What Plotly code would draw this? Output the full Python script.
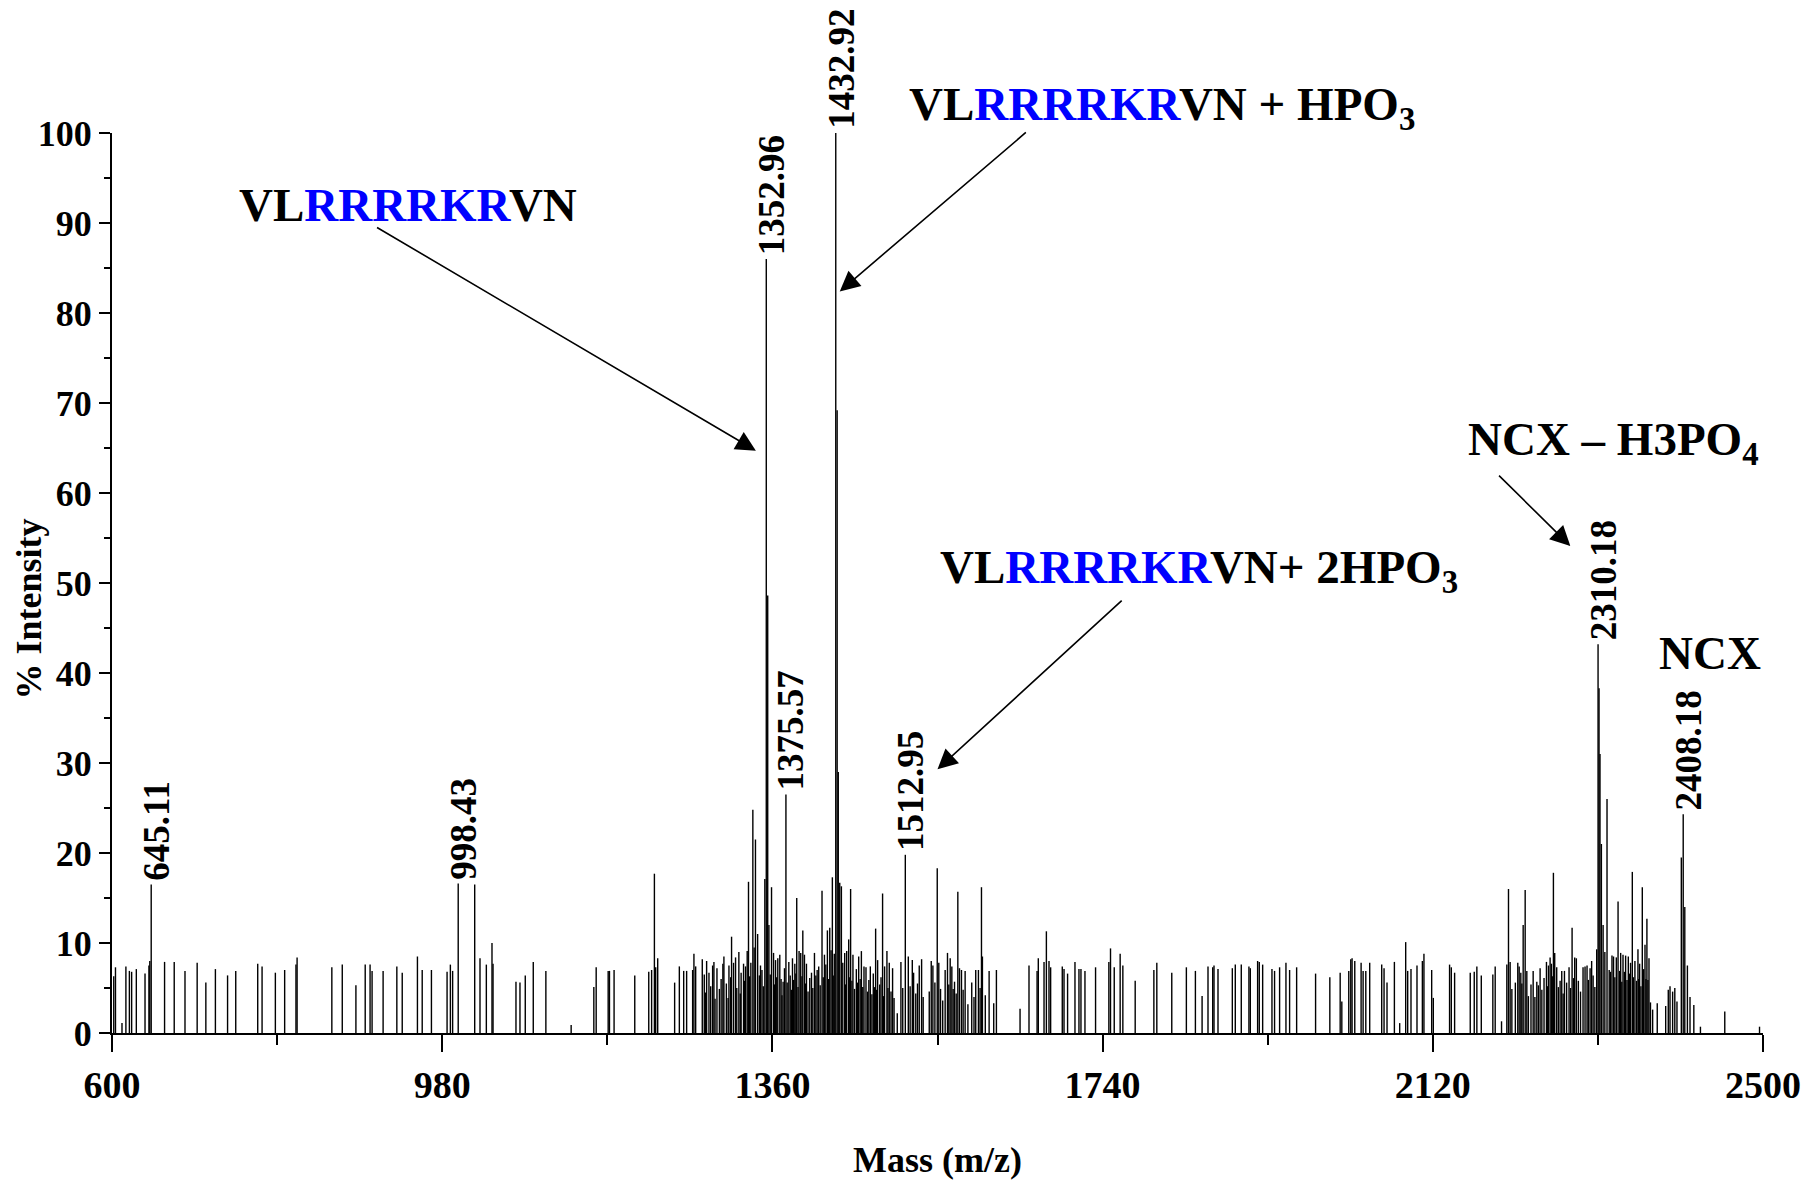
import plotly.graph_objects as go

# ---------------- data ----------------
peak_mz = [
    602, 604, 611.5, 616, 620, 622.6, 628, 638, 642.5, 643.5, 645.11, 660.5, 671.6, 684, 698, 708, 719, 733, 742.4,
    767.7, 772.7, 788, 798.7, 811.7, 813, 853, 865, 880.7, 891.4, 897, 899.3, 912, 927.8, 934, 951.5, 957, 967.6,
    985.6, 989.4, 992, 998.43,
    1017.4, 1023.5, 1030.8, 1037.3, 1038.5, 1064.9, 1069.5, 1075.6, 1084.8, 1099.3, 1128.4, 1154.5, 1157.2, 1171,
    1172.5, 1177.8, 1201.6, 1217.7, 1221, 1224.2, 1225.7, 1228, 1247.5, 1252.9, 1257.9, 1261.3, 1268.2, 1269.7,
    1271.7, 1279.3, 1281.6, 1284.3, 1287, 1291.2, 1292.7, 1296.2, 1303, 1304.2, 1310, 1313, 1315.3, 1317.6, 1321.4,
    1324, 1326.8, 1329.1, 1331, 1332.5, 1335.2, 1337.5, 1340.5, 1346.3, 1348, 1351.3, 1352.96, 1354.6,
    1359, 1361.3, 1363.6, 1366.2, 1368.5, 1372.3, 1373.9, 1375.57, 1378.9, 1383.1, 1385.8, 1388, 1390.7, 1392.6,
    1395, 1396.9, 1399.2, 1405, 1408.4, 1413.3, 1417.1, 1419.9, 1423.3, 1426, 1429, 1431.2, 1432.92, 1434.5,
    1435.8, 1437.5, 1439.4, 1443.2, 1445.5, 1447.8, 1450, 1452.7, 1456.6, 1459.3, 1462.4, 1465.4, 1467.7, 1472.7,
    1476.1, 1478.8, 1481.1, 1486.8, 1489.1, 1491.8, 1494.5, 1498.3, 1503.7, 1507.9, 1512.95, 1516.4, 1521, 1522.5,
    1529, 1531.7, 1540.5, 1542.8, 1544.7, 1549.7, 1551.5, 1558.8, 1561.5, 1564.6, 1566.5, 1569.6, 1573.4, 1575.3,
    1577.6, 1581.8, 1589.4, 1594, 1597.1, 1600.6, 1601.7, 1609.4, 1614.7, 1617.8, 1645, 1655.3, 1664.6, 1666,
    1672.6, 1675.3, 1678.3, 1680.2, 1693.6, 1695.6, 1699.7, 1708.2, 1712.8, 1715.1, 1719.7, 1731.9,
    1747.2, 1749.1, 1753.4, 1760.2, 1763.3, 1777.5, 1799, 1802.4, 1819.6, 1836.4, 1846.8, 1854.5, 1861.3, 1866.7,
    1868.2, 1872.8, 1889.3, 1892.7, 1899.6, 1908.4, 1910, 1918.4, 1920.3, 1924.2, 1934.9, 1937.9, 1943.7, 1951,
    1955.2, 1963.3, 1985.1, 2001.5, 2013.4, 2015.3, 2023.3, 2025.6, 2027.1, 2030.2, 2037.5, 2039.8, 2042.9, 2047.4,
    2061.2, 2063.9, 2067.3, 2075.8, 2081.9, 2088.8, 2091.1, 2094.9, 2101.8, 2108, 2109.8, 2118.7, 2120.6, 2139.3,
    2141.3, 2145.1, 2163.1, 2167.7, 2170.7, 2175.8, 2189.1, 2191.8, 2199.1, 2205.2, 2207.1, 2209, 2217.8, 2219.4,
    2221.3, 2224, 2226.3, 2228.2, 2235.5, 2239.7, 2243.5, 2250.8, 2253.1, 2255, 2256.5, 2258.8, 2260.3, 2262.6,
    2268.4, 2271.5, 2276.8, 2280.3, 2283.3, 2285.2, 2292.9, 2295.2, 2297.5, 2301, 2302.8, 2308.6, 2310.18, 2311.3,
    2312.4, 2314, 2320.5, 2326.2, 2328, 2331.2, 2333.2, 2336.2, 2338.9, 2341.9, 2345, 2347.6, 2349.6, 2352.6,
    2356.1, 2358, 2361.1, 2364.2, 2366.4, 2368.8, 2378.3, 2388, 2391, 2393, 2396, 2398.5, 2401, 2406, 2408.18,
    2410, 2413, 2416, 2420.4, 2428, 2456, 2496,
]
peak_int = [
    6.3, 7.3, 1.1, 7.4, 6.9, 6.8, 7.1, 6.6, 7.5, 8.0, 16.5, 7.9, 7.9, 6.9, 7.8, 5.6, 7.1, 6.4, 6.9,
    7.7, 7.4, 6.7, 7.0, 7.6, 8.4, 7.3, 7.6, 5.3, 7.6, 7.6, 6.9, 6.9, 7.4, 6.7, 8.5, 7.0, 7.0,
    6.8, 7.6, 6.9, 16.6,
    16.5, 8.3, 7.6, 10.0, 7.7, 5.7, 5.6, 6.4, 7.9, 6.9, 0.9, 5.1, 7.3, 6.9,
    6.9, 7.0, 6.4, 6.8, 7.0, 17.7, 7.3, 8.3, 5.6, 7.4, 6.9, 6.9, 7.0, 8.8,
    7.4, 8.2, 6.5, 8.0, 6.7, 7.5, 7.9, 7.2, 7.7, 8.5, 7.5, 10.7, 7.8, 8.4, 9.0,
    6.7, 7.7, 7.4, 9.1, 16.8, 7.8, 24.8, 21.5, 7.5, 7.0, 17.1, 86.0, 48.6,
    16.2, 8.9, 8.1, 8.3, 8.7, 5.7, 7.2, 26.5, 7.9, 8.3, 7.7, 15.0, 9.1, 8.9,
    11.4, 8.7, 7.7, 6.7, 8.9, 7.4, 15.8, 8.7, 11.4, 11.7, 17.3, 8.8, 100.0, 69.2,
    29.0, 16.7, 16.3, 8.9, 9.1, 10.4, 16.0, 8.7, 7.1, 8.5, 9.1, 7.4, 7.3, 7.4,
    6.6, 11.6, 8.1, 15.5, 7.4, 9.1, 7.8, 7.2, 2.2, 7.9, 19.8, 8.5, 8.1, 6.7,
    7.5, 8.2, 4.6, 8.0, 7.5, 18.3, 7.8, 7.0, 8.9, 8.3, 7.4, 5.7, 15.7, 7.2,
    7.0, 6.9, 5.6, 7.0, 7.0, 16.2, 8.5, 6.9, 3.3, 7.0, 2.7, 7.5, 6.9, 8.3,
    7.9, 11.3, 8.0, 7.3, 7.4, 7.1, 6.6, 7.9, 7.1, 7.1, 6.9, 7.3,
    7.9, 9.4, 7.3, 8.8, 7.5, 5.8, 7.0, 7.8, 6.7, 7.3, 6.9, 4.1, 7.4, 7.3,
    7.5, 7.1, 7.2, 7.6, 7.6, 7.4, 7.2, 8.0, 7.9, 7.6, 7.1, 6.9, 7.3, 7.8,
    7.0, 7.3, 6.6, 6.2, 6.7, 3.5, 6.9, 8.2, 8.3, 8.0, 7.8, 6.9, 6.9, 7.8,
    7.6, 7.2, 5.6, 7.9, 1.1, 10.1, 6.9, 7.1, 7.5, 8.0, 8.8, 7.0, 3.9, 7.6,
    7.3, 6.7, 6.7, 6.8, 7.4, 6.4, 6.5, 7.4, 1.3, 7.6, 16.0, 7.9, 7.8, 7.4,
    6.7, 12.0, 15.9, 6.9, 6.9, 5.7, 7.2, 7.9, 7.5, 8.4, 7.7, 17.8, 8.9, 7.3,
    6.9, 6.9, 7.3, 11.7, 8.4, 8.3, 7.3, 7.4, 7.5, 7.2, 8.0, 9.3, 43.2, 38.3,
    31.0, 21.0, 26.0, 8.6, 8.5, 8.4, 14.6, 8.9, 8.7, 8.6, 8.5, 7.8, 17.9, 8.0,
    9.3, 7.7, 16.2, 9.8, 12.7, 8.3, 3.3, 3.0, 4.8, 5.2, 4.6, 5.0, 3.5, 19.5, 24.3,
    14.0, 7.5, 4.0, 3.1, 0.7, 2.4, 0.7,
]

# lower peaks filling the dense regions
minor_mz = [
    1283, 1289, 1294, 1299, 1301, 1307, 1309, 1312, 1319, 1323, 1328, 1333.8, 1339, 1343, 1345, 1349.5, 1356,
    1357.5, 1362.5, 1365, 1370, 1371, 1377, 1380.5, 1382, 1384.5, 1387, 1389.5, 1394, 1398, 1401, 1403, 1406.5,
    1410, 1411.5, 1415, 1418.5, 1421.5, 1424.8, 1427.5, 1430, 1441, 1444, 1449, 1451.5, 1454.5, 1458, 1461, 1464,
    1469.5, 1471, 1474.5, 1477.5, 1480, 1483.5, 1485, 1488, 1493, 1496.5, 1500, 1510, 1518.5, 1525, 1527, 1533.5,
    1547, 1553.5, 1556, 1563, 1568, 1571.5, 1579.5, 1585, 1592, 1599, 1605,
    2211, 2215, 2222.5, 2230, 2233, 2237.5, 2241.5, 2245.5, 2248, 2252, 2257.5, 2264.5, 2266.5, 2270, 2274, 2278.5,
    2282, 2287.5, 2290, 2299, 2304.5, 2306.5, 2316, 2318, 2323, 2324.5, 2329.5, 2335, 2337.5, 2340.5, 2343.5,
    2346.5, 2350.8, 2354.5, 2357, 2359.5, 2362.6, 2365.3, 2367.6, 2370.5, 2373,
]
minor_int = [
    4.5, 5.2, 3.8, 4.9, 6.0, 5.5, 3.9, 6.2, 5.0, 4.4, 5.8, 6.3, 9.5, 11.0, 6.4, 5.2, 12.0,
    6.5, 5.4, 6.2, 6.0, 4.2, 5.6, 6.4, 4.8, 5.9, 6.6, 5.1, 6.3, 5.5, 4.6, 6.1, 5.0,
    6.4, 7.0, 5.3, 6.2, 7.6, 6.0, 9.2, 6.4, 7.8, 5.4, 6.2, 5.8, 4.9, 5.6, 6.0, 5.1,
    4.6, 5.9, 4.3, 5.1, 4.8, 5.4, 6.2, 4.1, 5.0, 4.6, 3.9, 5.0, 5.2, 4.4, 5.5, 4.0,
    5.6, 4.9, 3.6, 5.4, 4.9, 4.4, 4.8, 3.2, 4.0, 5.0, 4.2,
    4.9, 5.6, 5.5, 4.1, 5.4, 4.0, 5.3, 4.8, 6.1, 5.2, 6.3, 5.1, 5.8, 4.4, 5.6, 5.0,
    6.1, 5.8, 4.6, 5.9, 6.4, 5.1, 12.0, 9.0, 7.0, 6.8, 6.2, 6.9, 5.7, 6.8, 5.9,
    6.6, 6.2, 5.8, 6.0, 5.2, 7.1, 6.0, 5.9, 3.4, 2.6,
]

label_mz = [645.11, 998.43, 1352.96, 1375.57, 1432.92, 1512.95, 2310.18, 2408.18]
label_int = [16.5, 16.6, 86.0, 26.5, 100.0, 19.8, 43.2, 24.3]
label_text = ["645.11", "998.43", "1352.96", "1375.57", "1432.92", "1512.95", "2310.18", "2408.18"]

x_ticks = [600, 980, 1360, 1740, 2120, 2500]
y_ticks = [0, 10, 20, 30, 40, 50, 60, 70, 80, 90, 100]

BLUE = "#0000FF"
pep = f"VL<span style='color:{BLUE}'>RRRRKR</span>VN"
big_labels = [
    # text, x (m/z), y (% of axis height)
    (pep, 743.6, 92.0),
    (pep + " + HPO<sub>3</sub>", 1514.4, 102.8),
    (pep + "+ 2HPO<sub>3</sub>", 1550.0, 51.4),
    ("NCX – H3PO<sub>4</sub>", 2157.7, 65.6),
    ("NCX", 2378.3, 42.2),
]
# arrows: tail (m/z, %) -> head (m/z, %)
arrows = [
    (903.3, 89.6, 1341.0, 64.7),
    (1653.4, 100.2, 1437.5, 82.4),
    (1763.7, 48.2, 1550.0, 29.3),
    (2194.5, 62.1, 2278.3, 54.1),
]

# ---------------- build figure ----------------
FONT = "Liberation Serif"
xs, ys = [], []
for m, h in zip(peak_mz + minor_mz, peak_int + minor_int):
    xs += [m, m, None]
    ys += [0, h, None]

fig = go.Figure()
fig.add_trace(go.Scatter(x=xs, y=ys, mode="lines",
                         line=dict(color="black", width=1.4),
                         hoverinfo="skip", showlegend=False))

ann = []
for m, h, t in zip(label_mz, label_int, label_text):
    ann.append(dict(x=m, y=h, xref="x", yref="y", text=t, showarrow=False,
                    textangle=-90, xanchor="center", yanchor="bottom",
                    xshift=5, yshift=2,
                    font=dict(family=FONT, size=37, color="black", weight="bold")))
for t, x, y in big_labels:
    ann.append(dict(x=x, y=y / 100.0, xref="x", yref="paper", text=t, showarrow=False,
                    xanchor="left", yanchor="middle",
                    font=dict(family=FONT, size=47, color="black", weight="bold")))
for ax_, ay_, x, y in arrows:
    ann.append(dict(x=x, y=y, ax=ax_, ay=ay_, xref="x", yref="y", axref="x", ayref="y",
                    text="", showarrow=True, arrowhead=2, arrowsize=2.5,
                    arrowwidth=1.6, arrowcolor="black", standoff=0, startstandoff=0))
ann.append(dict(x=0.5, y=-0.141, xref="paper", yref="paper", text="Mass (m/z)",
                showarrow=False, xanchor="center", yanchor="middle",
                font=dict(family=FONT, size=36, color="black", weight="bold")))
ann.append(dict(x=-0.05, y=0.471, xref="paper", yref="paper", text="% Intensity",
                showarrow=False, textangle=-90, xanchor="center", yanchor="middle",
                font=dict(family=FONT, size=36, color="black", weight="bold")))

fig.update_layout(
    width=1813, height=1182,
    margin=dict(l=112, r=47, t=133, b=149),
    paper_bgcolor="white", plot_bgcolor="white",
    annotations=ann,
    xaxis=dict(range=[600, 2500], tickvals=x_ticks, ticktext=[str(v) for v in x_ticks],
               showgrid=False, zeroline=False, showline=True, linecolor="black", linewidth=2,
               ticks="outside", ticklen=17, tickwidth=1.5, tickcolor="black",
               tickfont=dict(family=FONT, size=38, color="black", weight="bold"),
               minor=dict(dtick=190, tick0=600, ticks="outside", ticklen=10,
                          tickwidth=1.5, tickcolor="black", showgrid=False)),
    yaxis=dict(range=[0, 100], tickvals=y_ticks, ticktext=[str(v) for v in y_ticks],
               showgrid=False, zeroline=False, showline=True, linecolor="black", linewidth=2,
               ticks="outside", ticklen=11, tickwidth=1.5, tickcolor="black",
               tickfont=dict(family=FONT, size=36, color="black", weight="bold"),
               minor=dict(dtick=5, tick0=0, ticks="outside", ticklen=6,
                          tickwidth=1.5, tickcolor="black", showgrid=False)),
)

fig.write_html("out.html")
